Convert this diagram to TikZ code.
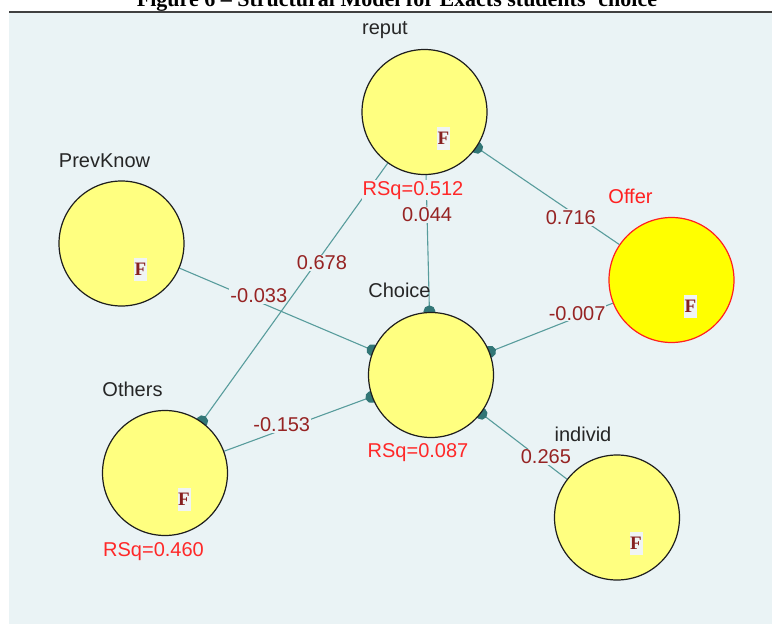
\documentclass[tikz,border=0pt]{standalone}
\usepackage{fontspec}
\setmainfont{Liberation Sans}
\newfontfamily\serifF{Liberation Serif}
\usetikzlibrary{arrows.meta}
\definecolor{panelbg}{RGB}{234,243,245}
\definecolor{lvfill}{RGB}{255,255,128}
\definecolor{offerfill}{RGB}{255,255,0}
\definecolor{offerline}{RGB}{255,32,32}
\definecolor{nodeline}{RGB}{30,30,30}
\definecolor{edgecol}{RGB}{88,156,156}
\definecolor{blobcol}{RGB}{50,118,118}
\definecolor{coefcol}{RGB}{150,35,35}
\definecolor{rsqcol}{RGB}{255,40,40}
\definecolor{fboxfill}{RGB}{240,244,244}
\pgfdeclarelayer{bglayer}
\pgfdeclarelayer{edgelayer}
\pgfsetlayers{bglayer,edgelayer,main}
\begin{document}
\begin{tikzpicture}[x=1pt,y=-1pt,
  lv/.style={circle, draw=nodeline, line width=1.2pt, fill=lvfill, minimum size=125pt, inner sep=0pt},
  lvred/.style={lv, draw=offerline, fill=offerfill},
  namelbl/.style={font=\fontsize{20}{24}\selectfont, text=black!85, anchor=base, inner sep=0pt},
  rsq/.style={font=\fontsize{20}{24}\selectfont, text=rsqcol, anchor=base, fill=panelbg, inner sep=1pt},
  fmark/.style={font=\serifF\bfseries\fontsize{19}{24}\selectfont, text=coefcol!90!black, fill=fboxfill, inner sep=0pt, minimum width=13pt, minimum height=23pt},
  path/.style={draw=edgecol, line width=1.1pt, -{Circle[length=12pt,width=12pt,color=blobcol]}, shorten >=-5.5pt},
  coef/.style={font=\fontsize{20}{24}\selectfont, text=coefcol, fill=panelbg, inner sep=1pt}
]
\useasboundingbox (0,0) rectangle (772,624);
\begin{pgfonlayer}{bglayer}
  \fill[panelbg] (9,12) rectangle (772,624);
  \draw[black!75, line width=1.5pt] (9,12) -- (772,12);
\end{pgfonlayer}
\node[font=\serifF\bfseries\fontsize{22}{24}\selectfont, anchor=base, inner sep=0pt] (title) at (397,6) {Figure 6 – Structural Model for Exacts students’ choice};

% latent variables
\node[lv] (reput) at (424.5,112) {};
\node[lv] (prev) at (121.5,243.5) {};
\node[lvred] (offer) at (671.5,280) {};
\node[lv] (choice) at (431,375) {};
\node[lv] (others) at (165,473) {};
\node[lv] (individ) at (617,517.5) {};

% F marks
\node[fmark] (freput) at ([shift={(19,26)}]reput.center) {F};
\node[fmark] (fprev) at ([shift={(19,26)}]prev.center) {F};
\node[fmark] (foffer) at ([shift={(19,26)}]offer.center) {F};
\node[fmark] (fothers) at ([shift={(19,26)}]others.center) {F};
\node[fmark] (findivid) at ([shift={(19,26)}]individ.center) {F};

% names
\node[namelbl] (lreput) at (385,34) {reput};
\node[namelbl] (lprev) at (104.5,167) {PrevKnow};
\node[namelbl, text=offerline] (loffer) at (630.5,203) {Offer};
\node[namelbl] (lchoice) at (399.5,297) {Choice};
\node[namelbl] (lothers) at (132.5,396) {Others};
\node[namelbl] (lindivid) at (583,441) {individ};

% R squared
\node[rsq] (rsqreput) at (413,195) {RSq=0.512};
\node[rsq] (rsqchoice) at (418,457) {RSq=0.087};
\node[rsq] (rsqothers) at (153.5,556) {RSq=0.460};

% paths
\begin{pgfonlayer}{edgelayer}
  \draw[path] (prev) -- (choice) node[coef, pos=0.41, yshift=6pt] {-0.033};
  \draw[path] (others) -- (choice) node[coef, pos=0.39, yshift=5pt] {-0.153};
  \draw[path] (offer) -- (choice) node[coef, pos=0.29, yshift=4pt] {-0.007};
  \draw[path] (individ) -- (choice) node[coef, pos=0.28, yshift=4pt, xshift=3pt] {0.265};
  \draw[path] (reput) -- (choice) node[coef, pos=0.29] {0.044};
  \draw[path] (offer) -- (reput) node[coef, pos=0.34, yshift=-6pt] {0.716};
  \draw[path] (reput) -- (others) node[coef, pos=0.386, xshift=6pt] {0.678};
\end{pgfonlayer}
\end{tikzpicture}
\end{document}
